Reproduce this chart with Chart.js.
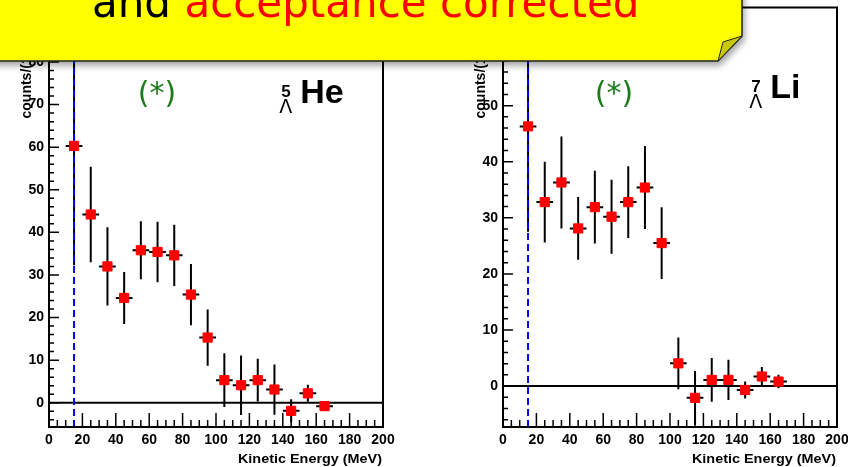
<!DOCTYPE html>
<html>
<head>
<meta charset="utf-8">
<script src="https://cdn.jsdelivr.net/npm/chart.js@4.4.1/dist/chart.umd.min.js"></script>
<style>
    html, body { margin: 0; padding: 0; background: #fff; }
    #wrap { position: relative; width: 848px; height: 467px; overflow: hidden; }
    .pane { position: absolute; top: 0; width: 424px; height: 467px; }
    #callout { position: absolute; left: 0; top: 0; }
</style>
</head>
<body>
<div id="wrap">
    <div class="pane" style="left:0"><canvas id="heChart"></canvas></div>
    <div class="pane" style="left:424px"><canvas id="liChart"></canvas></div>
    <svg id="callout" width="848" height="467">
        <defs>
            <filter id="shadow" x="-10%" y="-10%" width="130%" height="140%">
                <feDropShadow dx="2" dy="4" stdDeviation="3" flood-color="#000" flood-opacity="0.35"/>
            </filter>
        </defs>
        <polygon points="-20,-80 742,-80 742,36 718,61 -20,61" fill="#ffff00" stroke="#222" stroke-width="1.5" filter="url(#shadow)"/>
        <polygon points="742,36 723,42 718,61" fill="#c9c900" stroke="#222" stroke-width="1"/>
        <text x="92" y="17" font-family="DejaVu Sans" font-size="42"><tspan fill="#000">and</tspan> <tspan fill="#ff0000">acceptance corrected</tspan></text>
        <text x="157" y="103" font-family="DejaVu Sans" font-size="30" fill="#1e7b1e" text-anchor="middle">(*)</text>
        <text x="614" y="103" font-family="DejaVu Sans" font-size="30" fill="#1e7b1e" text-anchor="middle">(*)</text>
    </svg>
</div>

<script>
// bin centres (MeV), shared by both spectra
const energy = [15, 25, 35, 45, 55, 65, 75, 85, 95, 105, 115, 125, 135, 145, 155, 165];
const binHalfWidth = 5;
const threshold = 15;

// 5_Lambda He
const heCounts = [60.3, 44.2, 32.0, 24.6, 35.8, 35.4, 34.6, 25.4, 15.3, 5.3, 4.1, 5.3, 3.1, -1.9, 2.2, -0.8];
const heErrors = [28.0, 11.2, 9.2, 6.1, 6.8, 7.1, 7.2, 7.2, 6.6, 6.3, 7.0, 5.0, 5.9, 2.7, 2.0, 1.0];

// 7_Lambda Li
const liCounts = [46.3, 32.8, 36.3, 28.1, 31.9, 30.2, 32.8, 35.4, 25.5, 4.05, -2.1, 1.1, 1.1, -0.7, 1.7, 0.8];
const liErrors = [18.8, 7.2, 8.2, 5.6, 6.5, 6.6, 6.4, 7.4, 6.4, 4.6, 4.8, 3.9, 3.6, 1.5, 1.7, 1.2];

const xTicks = [0, 20, 40, 60, 80, 100, 120, 140, 160, 180, 200];
const heYTicks = [0, 10, 20, 30, 40, 50, 60, 70, 80, 90];
const liYTicks = [0, 10, 20, 30, 40, 50, 60];

const tickFont = { family: 'Liberation Sans', weight: 'bold', size: 14 };

// ROOT-like frame: inward ticks, zero line, error bars, threshold line, labels
const rootFrame = {
    id: 'rootFrame',
    beforeDatasetsDraw(chart, args, opts) {
        const { ctx, chartArea: a, scales: { x, y } } = chart;
        ctx.save();

        ctx.strokeStyle = '#000';
        ctx.lineWidth = 1.5;
        ctx.beginPath();
        for (let v = 0; v <= 200; v += 5) {
            const px = x.getPixelForValue(v);
            const len = v % 20 === 0 ? 14 : 7;
            ctx.moveTo(px, a.bottom);
            ctx.lineTo(px, a.bottom - len);
        }
        for (let v = Math.ceil(y.min / 2) * 2; v <= y.max; v += 2) {
            const py = y.getPixelForValue(v);
            const len = v % 10 === 0 ? 10 : 5;
            ctx.moveTo(a.left, py);
            ctx.lineTo(a.left + len, py);
        }
        ctx.stroke();

        // zero line
        ctx.lineWidth = 2;
        ctx.beginPath();
        const y0 = y.getPixelForValue(0);
        ctx.moveTo(a.left, y0);
        ctx.lineTo(a.right, y0);
        ctx.stroke();

        // error bars
        ctx.beginPath();
        ctx.rect(a.left, a.top, a.right - a.left, a.bottom - a.top);
        ctx.clip();
        ctx.beginPath();
        opts.errors.forEach((err, i) => {
            const px = x.getPixelForValue(energy[i]);
            const py = y.getPixelForValue(opts.counts[i]);
            ctx.moveTo(px, y.getPixelForValue(opts.counts[i] - err));
            ctx.lineTo(px, y.getPixelForValue(opts.counts[i] + err));
            ctx.moveTo(x.getPixelForValue(energy[i] - binHalfWidth), py);
            ctx.lineTo(x.getPixelForValue(energy[i] + binHalfWidth), py);
        });
        ctx.stroke();

        // threshold
        ctx.strokeStyle = '#0000ff';
        ctx.setLineDash([7, 4]);
        ctx.beginPath();
        const tx = x.getPixelForValue(threshold);
        ctx.moveTo(tx, a.bottom);
        ctx.lineTo(tx, a.top);
        ctx.stroke();
        ctx.restore();
    },
    afterDraw(chart, args, opts) {
        const { ctx, chartArea: a, scales: { x, y } } = chart;
        ctx.save();

        // frame
        ctx.strokeStyle = '#000';
        ctx.lineWidth = 2;
        ctx.strokeRect(a.left, a.top, a.right - a.left, a.bottom - a.top);

        ctx.fillStyle = '#000';

        // x title, right aligned to the axis end
        ctx.font = 'bold 12px "Liberation Sans"';
        ctx.textAlign = 'right';
        ctx.textBaseline = 'alphabetic';
        ctx.save();
        ctx.translate(a.right - 1, 463);
        ctx.scale(1.2, 1);
        ctx.fillText('Kinetic Energy (MeV)', 0, 0);
        ctx.restore();

        // y title
        ctx.save();
        ctx.translate(a.left - 22, a.top + 111);
        ctx.rotate(-Math.PI / 2);
        ctx.font = 'bold 14px "Liberation Sans"';
        ctx.textAlign = 'left';
        ctx.textBaseline = 'middle';
        ctx.fillText('counts/(10 MeV)', 0, 0);
        ctx.restore();

        // nucleus label
        const lx = x.getPixelForValue(opts.nucleus.x);
        const ly = y.getPixelForValue(opts.nucleus.y);
        ctx.textAlign = 'left';
        ctx.textBaseline = 'alphabetic';
        ctx.font = 'bold 34px "Liberation Sans"';
        ctx.fillText(opts.nucleus.symbol, lx, ly);
        ctx.font = 'bold 17px "Liberation Sans"';
        ctx.fillText(opts.nucleus.mass, lx - 19, ly - 6);
        ctx.font = '19px "DejaVu Sans"';
        ctx.fillText('Λ', lx - 21, ly + 10);
        ctx.restore();
    }
};

function makeChart(id, counts, errors, yMin, yMax, yTicks, axisWidth, padRight, nucleus) {
    return new Chart(document.getElementById(id), {
        type: 'scatter',
        data: {
            datasets: [{
                data: energy.map((e, i) => ({ x: e, y: counts[i] })),
                pointStyle: 'rect',
                pointRadius: 6.5,
                pointHoverRadius: 6.5,
                backgroundColor: '#ff0000',
                borderColor: '#ff0000',
                borderWidth: 1
            }]
        },
        options: {
            responsive: true,
            maintainAspectRatio: false,
            animation: false,
            events: [],
            layout: { padding: { top: 7, right: padRight, left: 0, bottom: 0 } },
            plugins: {
                legend: { display: false },
                tooltip: { enabled: false },
                rootFrame: { counts, errors, nucleus }
            },
            scales: {
                x: {
                    type: 'linear', min: 0, max: 200,
                    grid: { display: false, drawTicks: false, tickLength: 0 },
                    border: { display: false },
                    afterBuildTicks: s => { s.ticks = xTicks.map(v => ({ value: v })); },
                    afterFit: s => { s.height = 40; s.paddingLeft = 0; s.paddingRight = 0; },
                    ticks: { color: '#000', font: tickFont, padding: 5, maxRotation: 0, autoSkip: false }
                },
                y: {
                    type: 'linear', min: yMin, max: yMax,
                    grid: { display: false, drawTicks: false, tickLength: 0 },
                    border: { display: false },
                    afterBuildTicks: s => { s.ticks = yTicks.map(v => ({ value: v })); },
                    afterFit: s => { s.width = axisWidth; s.paddingTop = 0; s.paddingBottom = 0; },
                    ticks: { color: '#000', font: tickFont, padding: 5, autoSkip: false }
                }
            }
        },
        plugins: [rootFrame]
    });
}

makeChart('heChart', heCounts, heErrors, -5.7, 92.8, heYTicks, 49, 41, { x: 150.4, y: 70.3, mass: '5', symbol: 'He' });
makeChart('liChart', liCounts, liErrors, -7.3, 67.5, liYTicks, 79, 11, { x: 160, y: 51.3, mass: '7', symbol: 'Li' });
</script>
</body>
</html>
